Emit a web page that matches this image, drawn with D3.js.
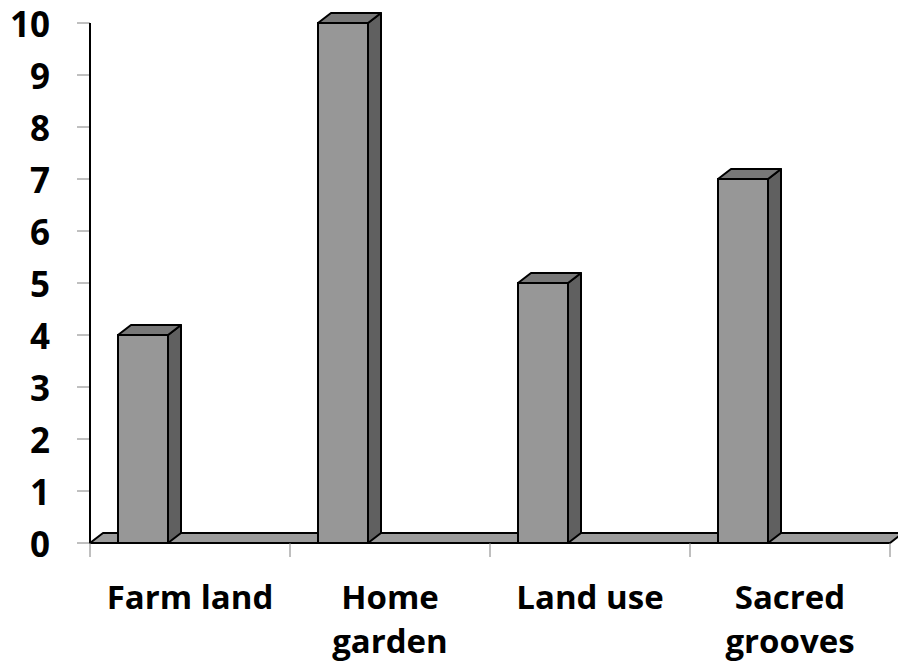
<!DOCTYPE html>
<html>
<head>
<meta charset="utf-8">
<script src="https://cdn.jsdelivr.net/npm/d3@7"></script>
<style>
  body { margin: 0; background: white; }
  text { font-family: "Open Sans", sans-serif; font-weight: bold; fill: #000; }
</style>
</head>
<body>
<div id="chart"></div>
<script>
var categories = ["Farm land", "Home garden", "Land use", "Sacred grooves"];
var categoryLines = [["Farm land"], ["Home", "garden"], ["Land use"], ["Sacred", "grooves"]];
var values = [4, 10, 5, 7];
var yTicks = [0, 1, 2, 3, 4, 5, 6, 7, 8, 9, 10];

var width = 898, height = 671;
var depthX = 13, depthY = 10;   // 3d offset of the bars and floor

var svg = d3.select("#chart").append("svg")
	.attr("width", width)
	.attr("height", height);

var x = d3.scaleBand().domain(categories).range([90, 890]).padding(0);
var y = d3.scaleLinear().domain([0, 10]).range([543, 23]);

var barOffset = 28, barWidth = 50;

// floor
var x0 = x.range()[0], x1 = x.range()[1], y0 = y(0);
svg.append("path")
	.attr("d", "M" + x0 + "," + y0 + "L" + (x0 + depthX) + "," + (y0 - depthY) +
		"L" + (x1 + depthX) + "," + (y0 - depthY) + "L" + x1 + "," + y0 + "Z")
	.attr("fill", "#9b9b9b")
	.attr("stroke", "#000")
	.attr("stroke-width", 2)
	.attr("stroke-linejoin", "round");

// y ticks
svg.selectAll(".ytick")
	.data(yTicks)
	.enter().append("line")
	.attr("x1", 77).attr("x2", x0)
	.attr("y1", d => y(d)).attr("y2", d => y(d))
	.attr("stroke", "#808080")
	.attr("stroke-width", 1);

svg.selectAll(".ylabel")
	.data(yTicks)
	.enter().append("text")
	.attr("x", 50)
	.attr("y", d => y(d) + 14)
	.attr("text-anchor", "end")
	.style("font-size", "35px")
	.text(d => d);

// x ticks
var xTickPos = categories.map(c => x(c)).concat([x1]);
svg.selectAll(".xtick")
	.data(xTickPos)
	.enter().append("line")
	.attr("x1", d => d).attr("x2", d => d)
	.attr("y1", y0).attr("y2", y0 + 14)
	.attr("stroke", "#808080")
	.attr("stroke-width", 1);

// y axis line
svg.append("line")
	.attr("x1", x0).attr("x2", x0)
	.attr("y1", y(10)).attr("y2", y0)
	.attr("stroke", "#000")
	.attr("stroke-width", 2);

// bars
var bars = svg.selectAll(".bar")
	.data(categories.map((c, i) => ({ cat: c, value: values[i] })))
	.enter().append("g")
	.attr("class", "bar");

bars.append("path")   // side
	.attr("d", function(d) {
		var bx = x(d.cat) + barOffset + barWidth, top = y(d.value);
		return "M" + bx + "," + y0 + "L" + bx + "," + top +
			"L" + (bx + depthX) + "," + (top - depthY) +
			"L" + (bx + depthX) + "," + (y0 - depthY) + "Z";
	})
	.attr("fill", "#606060")
	.attr("stroke", "#000").attr("stroke-width", 2).attr("stroke-linejoin", "round");

bars.append("path")   // top
	.attr("d", function(d) {
		var bx = x(d.cat) + barOffset, top = y(d.value);
		return "M" + bx + "," + top + "L" + (bx + depthX) + "," + (top - depthY) +
			"L" + (bx + barWidth + depthX) + "," + (top - depthY) +
			"L" + (bx + barWidth) + "," + top + "Z";
	})
	.attr("fill", "#787878")
	.attr("stroke", "#000").attr("stroke-width", 2).attr("stroke-linejoin", "round");

bars.append("rect")   // front
	.attr("x", d => x(d.cat) + barOffset)
	.attr("y", d => y(d.value))
	.attr("width", barWidth)
	.attr("height", d => y0 - y(d.value))
	.attr("fill", "#979797")
	.attr("stroke", "#000").attr("stroke-width", 2);

// x labels
var xl = svg.selectAll(".xlabel")
	.data(categories.map((c, i) => ({ cat: c, lines: categoryLines[i] })))
	.enter().append("text")
	.attr("text-anchor", "middle")
	.style("font-size", "33px");

xl.selectAll("tspan")
	.data(d => d.lines.map(l => ({ cat: d.cat, line: l })))
	.enter().append("tspan")
	.attr("x", d => x(d.cat) + x.bandwidth() / 2)
	.attr("y", (d, i) => 609 + i * 44)
	.text(d => d.line);
</script>
</body>
</html>
